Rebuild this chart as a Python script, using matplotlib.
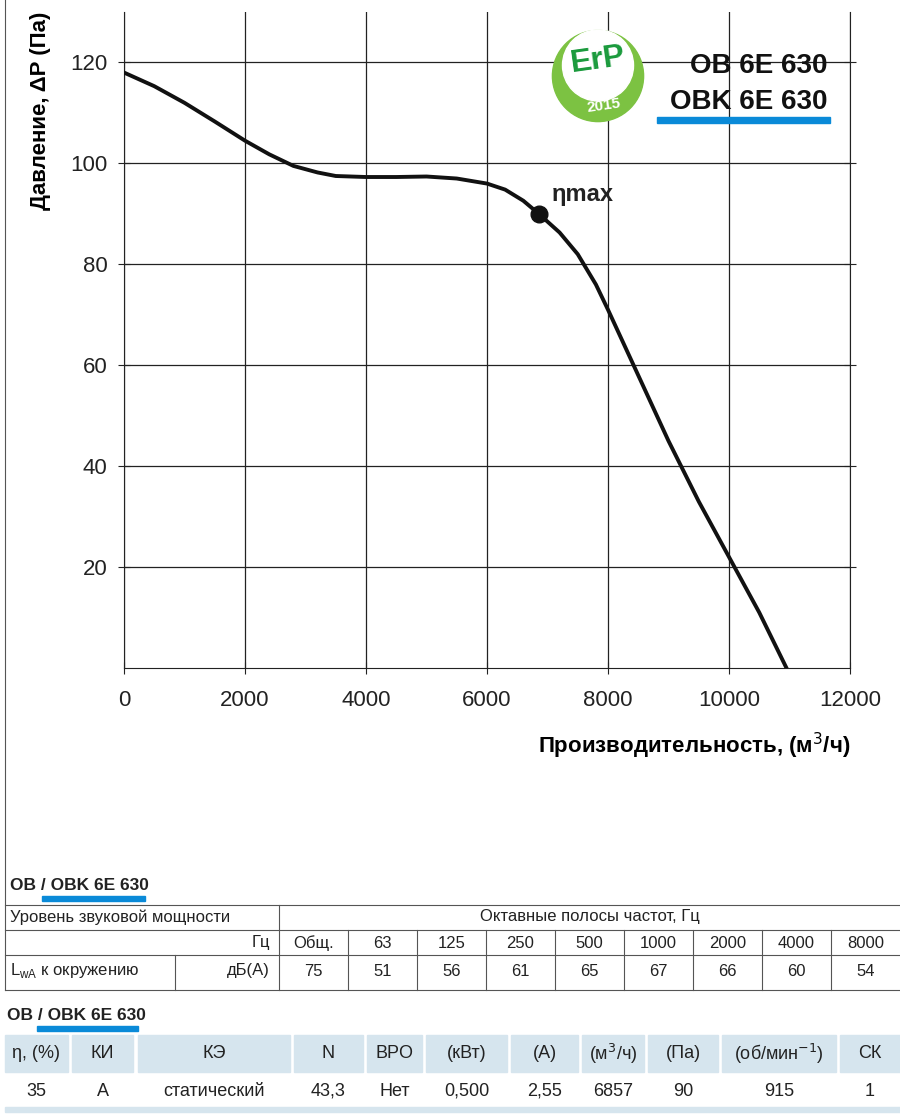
import matplotlib
matplotlib.use("Agg")
import matplotlib.pyplot as plt
from matplotlib.patches import Rectangle, Circle

flow = [0, 500, 1000, 1500, 2000, 2400, 2800, 3200, 3500, 4000, 4500, 5000, 5500, 6000, 6300, 6600, 6857,
        7200, 7500, 7800, 8000, 8500, 9000, 9250, 9500, 9750, 10000, 10250, 10500, 10950]
pres = [118, 115.3, 112, 108.3, 104.5, 101.8, 99.5, 98.2, 97.5, 97.3, 97.3, 97.4, 97, 96, 94.8, 92.6, 90,
        86.3, 82, 76, 71, 58, 45, 39, 33, 27.5, 22, 16.5, 11, 0]
eta_q, eta_p = 6857, 90
xticks = [0, 2000, 4000, 6000, 8000, 10000, 12000]
yticks = [20, 40, 60, 80, 100, 120]

freqs = ["Общ.", "63", "125", "250", "500", "1000", "2000", "4000", "8000"]
lwa = ["75", "51", "56", "61", "65", "67", "66", "60", "54"]
hdr2 = ["η, (%)", "КИ", "КЭ", "N", "BPO", "(кВт)", "(А)", "(м$^3$/ч)", "(Па)", "(об/мин$^{-1}$)", "СК"]
val2 = ["35", "A", "статический", "43,3", "Нет", "0,500", "2,55", "6857", "90", "915", "1"]

W, H = 900, 1116
BLUE = "#0a8ad8"
CELL = "#d6e5ee"
AF = ["Liberation Sans", "DejaVu Sans"]
fig = plt.figure(figsize=(9, 11.16), dpi=100)
ax = fig.add_axes([124/W, 1-668/H, (850-124)/W, (668-12)/H])
ax.plot(flow, pres, color="#111111", lw=2.8, zorder=3, solid_joinstyle="round")
ax.plot([eta_q], [eta_p], "o", color="#111111", ms=12, zorder=4)
ax.text(eta_q + 220, eta_p + 2.5, "ηmax", fontsize=17, fontweight="bold", color="#222", family=AF)
ax.set_xlim(0, 12000)
ax.set_ylim(0, 130)
ax.set_xticks(xticks)
ax.set_yticks(yticks)
ax.grid(True, color="#222222", lw=0.9)
ax.spines["top"].set_visible(False)
for s in ["left", "right", "bottom"]:
    ax.spines[s].set_color("#222")
ax.tick_params(direction="inout", length=8, labelsize=16, colors="#222", pad=8, right=True)
ax.tick_params(axis="x", pad=12)
ax.set_xlabel("Производительность, (м$^3$/ч)", fontsize=16, fontweight="bold",
              family=AF, labelpad=14, loc="right")
ax.set_ylabel("Давление, ΔP (Па)", fontsize=16, fontweight="bold",
              family=AF, labelpad=14, loc="top")
for t in ax.get_xticklabels() + ax.get_yticklabels():
    t.set_family(AF)

fig.text(828/W, 1-66/H, "OB 6E 630", fontsize=20, fontweight="bold", ha="right", va="center",
         family=AF, color="#111")
fig.text(828/W, 1-102/H, "OBK 6E 630", fontsize=20, fontweight="bold", ha="right", va="center",
         family=AF, color="#111")
fig.add_artist(Rectangle((657/W, 1-123/H), (830-657)/W, 6/H, color=BLUE, transform=fig.transFigure))

# ErP logo
lax = fig.add_axes([550/W, 1-124/H, 96/W, 96/H])
lax.set_xlim(-1, 1); lax.set_ylim(-1, 1); lax.axis("off")
lax.add_patch(Circle((0, 0), 0.95, color="#7cc242"))
lax.add_patch(Circle((0.0, 0.22), 0.74, color="white"))
lax.text(0.0, 0.32, "ErP", fontsize=23, fontweight="bold", color="#1a9a3c", ha="center", va="center",
         family=AF, rotation=8)
lax.text(0.12, -0.62, "2015", fontsize=11, fontweight="bold", color="white", ha="center", va="center",
         family=AF, rotation=8)

def hline(y, x0, x1, c="#555", lw=0.8):
    fig.add_artist(plt.Line2D([x0/W, x1/W], [1-y/H, 1-y/H], color=c, lw=lw))
def vline(x, y0, y1, c="#555", lw=0.8):
    fig.add_artist(plt.Line2D([x/W, x/W], [1-y0/H, 1-y1/H], color=c, lw=lw))

vline(5, 0, 990)
def txt(x, y, s, ha="center", size=12, **kw):
    fig.text(x/W, 1-y/H, s, ha=ha, va="center", fontsize=size, family=AF, color="#222", **kw)

# Table 1
txt(10, 885, "OB / OBK 6E 630", ha="left", size=12.5, fontweight="bold")
fig.add_artist(Rectangle((42/W, 1-901/H), (145-42)/W, 5/H, color=BLUE, transform=fig.transFigure))
hline(905, 5, 900); hline(930, 5, 900); hline(955, 5, 900); hline(990, 5, 900)
vline(279, 905, 990)
vline(175, 955, 990)
bounds = [279, 348, 417, 486, 555, 624, 693, 762, 831, 900]
for b in bounds[1:-1]:
    vline(b, 930, 990)
txt(10, 917, "Уровень звуковой мощности", ha="left")
txt(590, 917, "Октавные полосы частот, Гц")
txt(270, 943, "Гц", ha="right")
txt(10, 971, "L$_{\\mathregular{wA}}$ к окружению", ha="left")
txt(270, 971, "дБ(А)", ha="right")
for i in range(9):
    cx = (bounds[i] + bounds[i+1]) / 2
    txt(cx, 943, freqs[i])
    txt(cx, 971, lwa[i])

# Table 2
txt(7, 1016, "OB / OBK 6E 630", ha="left", size=12.5, fontweight="bold")
fig.add_artist(Rectangle((37/W, 1-1031/H), (138-37)/W, 5/H, color=BLUE, transform=fig.transFigure))
cells = [(5, 68), (72, 133), (138, 290), (294, 363), (367, 422), (426, 507), (511, 578),
         (582, 644), (648, 718), (722, 836), (840, 900)]
for (a, b), h, v in zip(cells, hdr2, val2):
    fig.add_artist(Rectangle((a/W, 1-1072/H), (b-a)/W, 37/H, color=CELL, transform=fig.transFigure))
    txt((a+b)/2, 1054, h, size=13)
    txt((a+b)/2, 1091, v, size=13)
fig.add_artist(Rectangle((5/W, 1-1112/H), 895/W, 5/H, color=CELL, transform=fig.transFigure))

fig.savefig("out.png", dpi=100)
